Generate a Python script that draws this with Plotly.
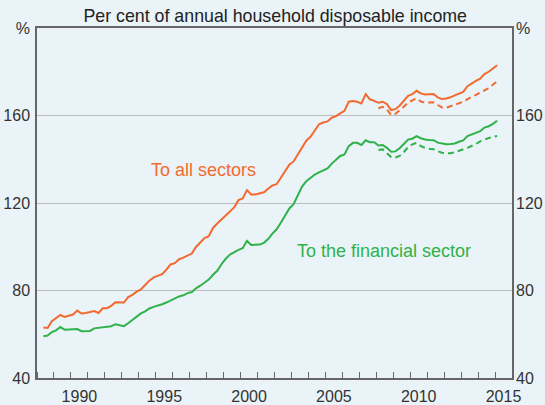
import pandas as pd
import plotly.graph_objects as go

# Quarterly data, 1988 Q2 to 2015 Q1 (per cent of annual household disposable income)
quarters = pd.period_range("1988Q2", "2015Q1", freq="Q")

all_sectors = [
    63.1, 62.9, 66.0,
    67.5, 68.8, 67.9, 68.3,
    69.0, 70.8, 69.5, 69.7,
    70.0, 70.6, 69.7, 71.9,
    71.9, 73.0, 74.6, 74.5,
    74.5, 77.0, 78.0, 79.5,
    80.5, 82.5, 84.5, 86.0,
    86.7, 87.5, 89.5, 91.9,
    92.5, 94.3, 95.0, 96.0,
    96.9, 99.9, 102.0, 104.0,
    104.8, 108.6, 110.6, 112.5,
    114.5, 116.0, 118.0, 121.3,
    122.1, 125.9, 123.9, 123.9,
    124.3, 124.9, 126.5, 128.0,
    128.6, 131.5, 135.0, 137.5,
    139.0, 142.0, 145.5, 148.5,
    150.3, 153.0, 156.0, 156.8,
    157.3, 159.0, 159.7, 161.0,
    162.1, 166.3, 166.6, 166.3,
    165.5, 169.8, 167.4, 166.7,
    165.8, 166.3, 165.2, 162.5,
    162.9, 164.5, 167.0, 169.0,
    169.8, 171.3, 170.1, 169.6,
    169.7, 169.8, 168.3, 167.5,
    167.8, 168.3, 169.2, 170.0,
    170.8, 173.4, 174.7, 175.8,
    176.8, 178.9, 180.0, 181.5,
    183.0,
]

financial_sector = [
    59.1, 59.4, 61.0,
    61.8, 63.3, 62.1, 62.2,
    62.3, 62.4, 61.4, 61.5,
    61.5, 62.7, 62.9, 63.3,
    63.5, 63.7, 64.6, 64.0,
    63.7, 65.0, 66.5, 68.0,
    69.5, 70.5, 71.8, 72.5,
    73.0, 73.7, 74.5, 75.5,
    76.5, 77.3, 77.8, 78.8,
    79.3, 81.0, 82.2, 83.5,
    85.0, 87.2, 89.0, 92.0,
    94.5, 96.4, 97.5, 98.6,
    99.3, 102.7, 100.8, 101.0,
    101.0, 101.8, 103.5, 106.0,
    108.0, 111.0, 114.5, 117.5,
    119.5, 123.5, 127.5, 130.0,
    131.5, 133.0, 134.0, 135.0,
    135.8, 138.0, 139.7, 141.5,
    142.2, 146.0, 147.5, 147.5,
    146.5, 148.7, 147.8, 147.8,
    146.3, 146.5, 145.2, 143.4,
    143.6, 145.0, 147.0, 149.0,
    149.4, 150.6, 149.6, 149.0,
    148.8, 148.7, 147.6, 147.2,
    146.9, 147.0, 147.2, 148.0,
    148.6, 150.6, 151.3, 152.0,
    152.8, 154.5, 155.1, 156.2,
    157.6,
]

# Alternative (dashed) series, 2008 Q1 to 2015 Q1
quarters_alt = pd.period_range("2008Q1", "2015Q1", freq="Q")

all_sectors_alt = [
    163.3, 164.0, 162.8, 160.3,
    160.8, 162.2, 164.0, 166.0,
    166.8, 167.8, 166.4, 165.9,
    165.9, 166.0, 164.8, 163.7,
    163.6, 164.2, 164.9, 165.6,
    166.4, 167.6, 168.6, 169.4,
    170.3, 171.5, 172.5, 174.0,
    175.7,
]

financial_sector_alt = [
    144.2, 144.5, 142.8, 141.0,
    140.8, 141.5, 143.3, 145.5,
    146.8, 147.5, 146.0, 145.2,
    144.8, 144.6, 143.7, 143.0,
    142.8, 142.8, 143.2, 144.0,
    144.6, 145.2, 146.0, 147.0,
    148.2, 149.0, 149.7, 150.2,
    150.6,
]

year_labels = [1990, 1995, 2000, 2005, 2010, 2015]
y_ticks = [40, 80, 120, 160, 200]
y_ticktext = ["40", "80", "120", "160", "%"]


def to_x(periods):
    return [p.year + (p.quarter - 0.5) / 4 for p in periods]


ORANGE = "#f36a30"
GREEN = "#30b24a"
BG = "#eaf3f7"
FONT = "Liberation Sans, Arial, sans-serif"
DASH = "6px,4px"

fig = go.Figure()
fig.add_trace(go.Scatter(x=to_x(quarters), y=all_sectors, mode="lines",
                         line=dict(color=ORANGE, width=2), showlegend=False))
fig.add_trace(go.Scatter(x=to_x(quarters), y=financial_sector, mode="lines",
                         line=dict(color=GREEN, width=2), showlegend=False))
fig.add_trace(go.Scatter(x=to_x(quarters_alt), y=all_sectors_alt, mode="lines",
                         line=dict(color=ORANGE, width=2, dash=DASH), showlegend=False,
                         yaxis="y2"))
fig.add_trace(go.Scatter(x=to_x(quarters_alt), y=financial_sector_alt, mode="lines",
                         line=dict(color=GREEN, width=2, dash=DASH), showlegend=False,
                         yaxis="y2"))

fig.add_annotation(x=1997.83, y=135.3, text="To all sectors", showarrow=False,
                   font=dict(color=ORANGE, size=18, family=FONT))
fig.add_annotation(x=2008.44, y=98.0, text="To the financial sector", showarrow=False,
                   font=dict(color=GREEN, size=18, family=FONT))

axis_font = dict(family=FONT, size=16, color="#333333")

fig.update_layout(
    width=545, height=405,
    margin=dict(l=37, r=33, t=28, b=27),
    paper_bgcolor=BG, plot_bgcolor=BG,
    title=dict(text="Per cent of annual household disposable income",
               x=0.505, xanchor="center", y=1 - 16 / 405, yanchor="middle",
               font=dict(family=FONT, size=17.8, color="#222222")),
    xaxis=dict(
        range=[1988, 2016], showgrid=False, zeroline=False, automargin=False,
        tickmode="array", tickvals=[y + 0.5 for y in year_labels],
        ticktext=[str(y) for y in year_labels], ticks="", tickfont=axis_font,
        ticklabelstandoff=3,
        showline=True, linecolor="#666666", linewidth=1.5, mirror=True,
        minor=dict(ticks="inside", tickmode="linear", tick0=1988, dtick=1,
                   ticklen=6, tickcolor="#666666", tickwidth=1, showgrid=False),
    ),
    yaxis=dict(
        range=[40, 200], tickmode="array", tickvals=y_ticks, ticktext=y_ticktext,
        showgrid=True, gridcolor="#bdbdbd", gridwidth=1.2, zeroline=False,
        ticks="", tickfont=axis_font, automargin=False, ticklabelstandoff=2,
        showline=True, linecolor="#666666", linewidth=1.5, mirror=True,
    ),
    yaxis2=dict(
        range=[40, 200], matches="y", overlaying="y", side="right",
        tickmode="array", tickvals=y_ticks, ticktext=y_ticktext, automargin=False,
        showgrid=False, zeroline=False, ticks="", tickfont=axis_font, showline=False,
        ticklabelstandoff=3,
    ),
)

fig.write_html("out.html",
               config={"displayModeBar": False},
               post_script="document.body.style.margin='0px';"
                           "document.body.style.background='" + BG + "';")
